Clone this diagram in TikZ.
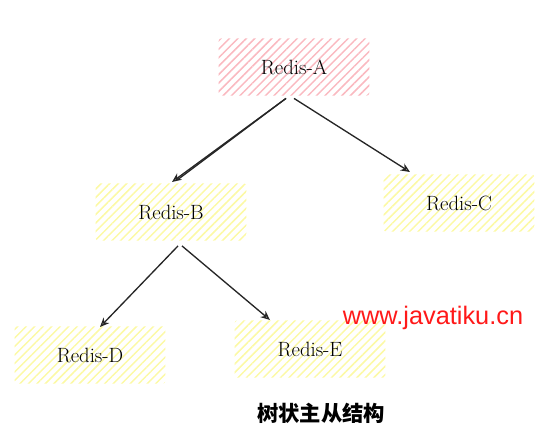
\documentclass[tikz,border=0pt]{standalone}
\usepackage{fontspec}
\usepackage{tikz}
\usetikzlibrary{arrows.meta,patterns.meta}
\newfontfamily\cjk{Noto Sans CJK SC}
\newfontfamily\wmfont{Liberation Sans}
\definecolor{hatchpink}{RGB}{250,185,192}
\definecolor{hatchyellow}{RGB}{252,249,165}

\begin{document}
\begin{tikzpicture}[x=0.75pt,y=-0.75pt,>=Stealth,
      font=\fontsize{15.5}{18}\selectfont,
      redis/.style={rounded corners=2pt,minimum width=113pt,minimum height=43pt,align=center},
      master/.style={redis,pattern={Lines[angle=45,distance=4.5pt,line width=1.1pt]},pattern color=hatchpink},
      slave/.style={redis,pattern={Lines[angle=45,distance=4.5pt,line width=1.1pt]},pattern color=hatchyellow},
      link/.style={-{Stealth[open,length=7pt,width=6pt]},line width=1pt,black!85}]
    \useasboundingbox (0,0) rectangle (549,446);
    \node[master] (A) at (294,67) {Redis-A};
    \node[slave] (B) at (171,212) {Redis-B};
    \node[slave] (C) at (459,203) {Redis-C};
    \node[slave] (D) at (90,355) {Redis-D};
    \node[slave] (E) at (310,349) {Redis-E};
    \draw[link] (A.south) ++(-8,2) coordinate (a1) -- (172,182) coordinate (b1);
    \draw[black!85,line width=1pt] (a1) -- ++(-108,81);
    \draw[link] (A.south) ++(0,2) -- (410,172);
    \draw[link] (B.south) ++(7,5) -- (100,327);
    \draw[link] (B.south) ++(11,5) -- (270,320);
    % caption and watermark
    \node[font=\cjk\bfseries\fontsize{16}{18}\selectfont] (title) at (321,413) {树状主从结构};
    \node[font=\wmfont\fontsize{19}{21}\selectfont,text=red!90] (mark) at (433,318) {www.javatiku.cn};
  \end{tikzpicture}
\end{document}
